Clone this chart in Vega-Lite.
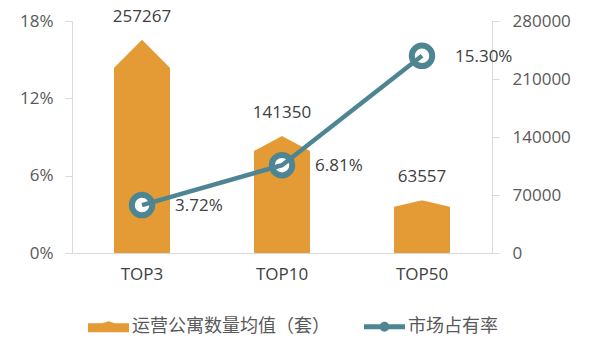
{
  "$schema": "https://vega.github.io/schema/vega-lite/v6.json",
  "width": 420,
  "height": 232,
  "autosize": {"type": "none"},
  "padding": {"left": 72, "top": 21, "right": 99, "bottom": 101},
  "background": "white",
  "config": {
    "view": {"stroke": null},
    "font": "Open Sans",
    "axis": {"grid": false, "domainColor": "#D9D9D9", "tickColor": "#D9D9D9", "labelColor": "#595959", "labelFontSize": 17, "labelFont": "Open Sans", "title": null}
  },
  "data": {"values": [
    {"cat": "TOP3", "count": 257267, "share": 0.0372},
    {"cat": "TOP10", "count": 141350, "share": 0.0681},
    {"cat": "TOP50", "count": 63557, "share": 0.1530}
  ]},
  "encoding": {
    "x": {"field": "cat", "type": "nominal", "sort": null,
      "scale": {"paddingInner": 0.6, "paddingOuter": 0.3},
      "axis": {"labelAngle": 0, "ticks": false, "labelPadding": 13, "labelFontSize": 17, "labelColor": "#404040", "domainColor": "#D9D9D9"}}
  },
  "layer": [
    {
      "encoding": {
        "y": {"field": "count", "type": "quantitative",
          "scale": {"domain": [0, 280000], "nice": false},
          "axis": {"orient": "right", "values": [0, 70000, 140000, 210000, 280000], "format": "d", "tickSize": 7, "labelPadding": 13}}
      },
      "layer": [
        {
          "mark": {"type": "bar"},
          "encoding": {
            "color": {"datum": "运营公寓数量均值（套）", "type": "nominal",
              "scale": {"domain": ["运营公寓数量均值（套）", "市场占有率"], "range": ["#E59B35", "#4E8593"]},
              "legend": {
                "orient": "none", "direction": "horizontal", "legendX": 16, "legendY": 285,
                "title": null, "symbolSize": 1681, "symbolStrokeWidth": 0, "columnPadding": 34, "labelOffset": 3, "labelLimit": 0,
                "labelFont": "Noto Sans CJK SC", "labelFontSize": 18, "labelColor": "#595959",
                "encode": {"symbols": {"update": {
                  "size": {"value": 1681},
                  "strokeWidth": {"value": 0},
                  "shape": {"signal": "datum.value === '市场占有率' ? 'M-1,-0.12H1V0.12H-1ZM-0.24,0A0.24,0.24,0,1,1,0.24,0A0.24,0.24,0,1,1,-0.24,0Z' : 'M-1,-0.17L-0.3,-0.17L0,-0.27L0.3,-0.17L1,-0.17V0.27H-1Z'"},
                  "fill": {"signal": "datum.value === '市场占有率' ? '#4E8593' : '#E59B35'"},
                  "opacity": {"value": 1},
                  "fillOpacity": {"value": 1}
                }}}
              }}
          }
        },
        {
          "mark": {"type": "point", "filled": true, "color": "white", "opacity": 1, "size": 3136, "strokeWidth": 0},
          "encoding": {
            "shape": {"field": "cat", "type": "nominal", "legend": null,
              "scale": {"domain": ["TOP3", "TOP10", "TOP50"],
                "range": [
                  "M-1.1,-0.1L1.1,-0.1L1.1,1.1L0,0L-1.1,1.1Z",
                  "M-1.1,-0.1L1.1,-0.1L1.1,0.59L0,0L-1.1,0.59Z",
                  "M-1.1,-0.1L1.1,-0.1L1.1,0.26L0,0L-1.1,0.26Z"
                ]}}
          }
        },
        {
          "mark": {"type": "text", "baseline": "alphabetic", "dy": -18, "fontSize": 17, "color": "#404040", "font": "Open Sans"},
          "encoding": {"text": {"field": "count", "type": "quantitative", "format": "d"}}
        }
      ]
    },
    {
      "encoding": {
        "y": {"field": "share", "type": "quantitative",
          "scale": {"domain": [0, 0.18], "nice": false},
          "axis": {"orient": "left", "values": [0, 0.06, 0.12, 0.18], "format": ".0%", "tickSize": 7, "labelPadding": 12}}
      },
      "layer": [
        {
          "mark": {"type": "point", "filled": false, "fill": "white", "fillOpacity": 1, "stroke": "#4E8593", "strokeWidth": 6, "size": 420, "opacity": 1}
        },
        {
          "mark": {"type": "line", "strokeWidth": 4.5},
          "encoding": {"color": {"datum": "市场占有率", "type": "nominal"}}
        },
        {
          "mark": {"type": "text", "align": "left", "baseline": "middle", "dx": 33, "dy": 1, "fontSize": 17, "color": "#404040", "font": "Open Sans"},
          "encoding": {"text": {"field": "share", "type": "quantitative", "format": ".2%"}}
        }
      ]
    }
  ],
  "resolve": {"scale": {"y": "independent"}}
}
